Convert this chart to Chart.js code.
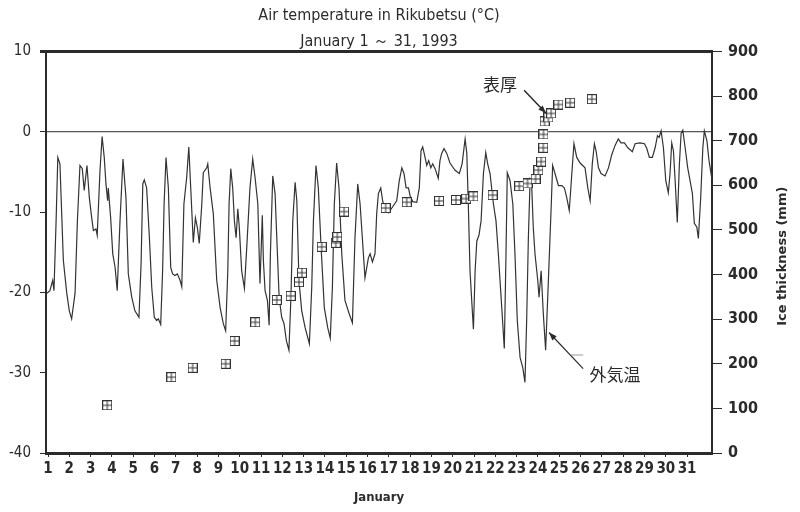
<!DOCTYPE html>
<html>
<head>
<meta charset="utf-8">
<style>
  html, body { margin: 0; padding: 0; background: #fff; }
  #wrap { width: 800px; height: 512px; }
</style>
<script src="https://cdn.jsdelivr.net/npm/chart.js@4/dist/chart.umd.min.js"></script>
</head>
<body>
<div id="wrap"><canvas id="tempChart" width="800" height="512"></canvas></div>
<script>
// Data
// Hourly-ish air temperature trace, x in days of January 1993
const TEMP_DAYS = [
  0.95,1.09,1.22,1.28,1.38,1.46,1.56,1.72,1.88,2.00,
  2.11,2.27,2.38,2.50,2.61,2.70,2.83,2.94,3.05,3.13,
  3.25,3.31,3.44,3.54,3.64,3.72,3.80,3.83,3.94,4.04,
  4.15,4.25,4.38,4.52,4.66,4.77,4.93,5.08,5.27,5.37,
  5.45,5.52,5.63,5.76,5.87,5.99,6.10,6.18,6.29,6.38,
  6.45,6.54,6.65,6.76,6.85,6.96,7.07,7.20,7.28,7.38,
  7.51,7.61,7.70,7.82,7.92,8.01,8.10,8.22,8.29,8.45,
  8.50,8.61,8.76,8.92,9.08,9.23,9.34,9.44,9.50,9.58,
  9.67,9.75,9.83,9.91,9.98,10.09,10.22,10.33,10.48,10.61,
  10.72,10.85,10.95,11.00,11.06,11.11,11.19,11.30,11.38,11.44,
  11.55,11.66,11.74,11.85,11.97,12.08,12.19,12.31,12.41,12.49,
  12.60,12.68,12.78,12.91,13.07,13.27,13.38,13.46,13.58,13.69,
  13.82,13.97,14.13,14.25,14.35,14.44,14.55,14.66,14.79,14.94,
  15.13,15.29,15.41,15.54,15.65,15.88,16.04,16.12,16.23,16.35,
  16.43,16.51,16.62,16.71,16.82,16.98,17.14,17.37,17.49,17.61,
  17.71,17.81,17.92,18.00,18.12,18.31,18.43,18.51,18.59,18.70,
  18.78,18.87,18.97,19.06,19.17,19.32,19.40,19.48,19.59,19.72,
  19.87,20.11,20.31,20.44,20.53,20.58,20.66,20.73,20.81,20.89,
  20.97,21.05,21.13,21.23,21.33,21.44,21.55,21.64,21.75,21.91,
  22.03,22.14,22.30,22.42,22.50,22.56,22.69,22.82,22.92,23.03,
  23.16,23.29,23.39,23.47,23.55,23.63,23.71,23.78,23.86,23.99,
  24.05,24.15,24.25,24.36,24.49,24.62,24.69,24.80,24.96,25.12,
  25.24,25.35,25.47,25.59,25.69,25.82,25.98,26.21,26.34,26.45,
  26.55,26.65,26.73,26.84,26.96,27.15,27.31,27.46,27.62,27.77,
  27.90,28.06,28.22,28.43,28.56,28.79,29.00,29.11,29.23,29.37,
  29.50,29.61,29.69,29.78,29.89,30.00,30.12,30.20,30.28,30.36,
  30.44,30.54,30.64,30.72,30.80,30.91,31.03,31.14,31.25,31.34,
  31.46,31.53,31.64,31.74,31.81,31.93,32.03,32.16
];
const TEMP_VALUES = [
  -20.1,-19.8,-18.5,-19.8,-11.1,-3.2,-4.0,-16.0,-20.1,-22.3,
  -23.3,-20.1,-11.1,-4.2,-4.6,-7.3,-4.2,-8.2,-10.7,-12.3,
  -12.1,-12.9,-4.9,-0.6,-3.2,-6.5,-8.6,-7.0,-10.7,-15.2,
  -16.9,-19.8,-11.1,-3.4,-8.2,-17.7,-20.6,-22.3,-23.1,-16.4,
  -6.5,-6.0,-7.0,-13.2,-19.4,-23.1,-23.5,-23.3,-24.0,-17.3,
  -9.0,-3.2,-7.0,-16.9,-17.7,-17.9,-17.7,-18.5,-19.3,-9.0,
  -5.7,-1.9,-7.0,-13.8,-10.7,-11.9,-13.9,-9.0,-5.1,-4.5,
  -4.0,-7.0,-10.2,-18.5,-21.9,-23.9,-24.8,-17.3,-9.0,-4.6,
  -7.0,-11.1,-13.2,-9.6,-11.9,-17.3,-19.5,-14.4,-7.0,-3.4,
  -5.7,-9.0,-18.9,-15.2,-10.4,-16.0,-19.8,-21.0,-24.1,-15.2,
  -5.5,-7.7,-13.2,-20.6,-23.1,-23.9,-26.0,-27.2,-20.1,-11.1,
  -6.3,-8.6,-18.5,-22.3,-24.4,-26.4,-19.4,-11.1,-4.2,-7.0,
  -14.4,-21.9,-24.4,-25.7,-19.4,-9.0,-3.9,-7.0,-15.2,-21.0,
  -22.6,-23.8,-13.2,-6.5,-9.0,-18.2,-15.7,-15.2,-16.2,-15.2,
  -10.2,-7.7,-7.0,-8.6,-9.8,-10.1,-9.5,-8.6,-6.1,-4.5,
  -5.2,-7.0,-7.0,-8.0,-8.7,-8.8,-7.0,-2.4,-1.9,-3.2,
  -4.2,-3.6,-4.5,-4.0,-4.6,-5.8,-3.6,-2.7,-2.1,-2.7,
  -3.9,-4.8,-5.2,-4.0,-2.0,-0.9,-2.7,-9.0,-17.3,-21.0,
  -24.6,-17.3,-13.6,-12.9,-11.1,-5.2,-2.6,-4.0,-5.2,-9.0,
  -11.1,-15.2,-21.9,-27.0,-15.2,-5.1,-6.1,-9.0,-15.2,-23.5,
  -28.1,-29.4,-31.2,-23.5,-13.2,-6.1,-7.0,-11.9,-15.2,-18.5,
  -20.6,-17.3,-22.6,-27.2,-18.5,-9.4,-4.2,-5.2,-6.7,-6.7,
  -7.0,-8.2,-9.8,-5.2,-1.5,-3.2,-3.9,-4.5,-7.0,-8.6,
  -4.0,-1.5,-2.4,-4.5,-5.2,-5.5,-4.5,-2.9,-1.7,-0.9,
  -1.4,-1.4,-2.0,-2.5,-1.5,-1.4,-1.5,-2.1,-3.2,-3.2,
  -2.0,-0.5,-0.7,0.1,-2.0,-6.1,-7.6,-5.2,-1.4,-2.4,
  -6.1,-11.3,-4.0,-0.2,0.2,-2.0,-4.5,-6.1,-7.7,-11.4,
  -11.9,-13.3,-8.2,-2.0,0.1,-1.1,-3.6,-5.8
];

// Ice thickness measurements (mm)
const ICE_DAYS = [3.78,6.79,7.79,9.34,9.76,10.73,11.74,12.39,12.78,12.92,13.85,14.51,14.58,14.90,
  16.85,17.84,19.36,20.15,20.63,20.97,21.87,23.12,23.51,23.89,24.02,24.15,24.25,24.26,24.31,
  24.49,24.62,24.96,25.51,26.53];
const ICE_MM = [107,170,191,200,251,293,343,352,383,404,462,471,484,541,
  549,562,565,567,570,575,578,598,604,614,634,653,684,714,743,
  752,761,781,785,793];

// Tick labels
const DAY_TICKS = [1,2,3,4,5,6,7,8,9,10,11,12,13,14,15,16,17,18,19,20,21,22,23,24,25,26,27,28,29,30,31];
const TEMP_TICKS = [10,0,-10,-20,-30,-40];
const ICE_TICKS = [0,100,200,300,400,500,600,700,800,900];

// Callout labels (placed in data units)
const THICK_NOTE = { text: '表厚', day: 22.22, temp: 5.9 };
const THICK_ARROW = [[23.35, 5.15], [24.38, 2.3]];
const AIR_NOTE = { text: '外気温', day: 27.62, temp: -30.2 };
const AIR_ARROW = [[26.12, -29.5], [24.52, -25.0]];
const AIR_TICK = [[25.55, -27.8], [26.12, -27.8]];

const NARROW = "'Liberation Sans Narrow', 'DejaVu Sans Condensed', sans-serif";
const INK = '#2b2b2b';

// Square-with-cross marker used for ice thickness
function makeIceMarker() {
    const c = document.createElement('canvas');
    c.width = 10; c.height = 10;
    const g = c.getContext('2d');
    g.fillStyle = '#fff';
    g.fillRect(0, 0, 10, 10);
    g.strokeStyle = '#333';
    g.lineWidth = 1;
    g.strokeRect(0.5, 0.5, 9, 9);
    g.beginPath();
    g.moveTo(5, 0.5); g.lineTo(5, 9.5);
    g.moveTo(0.5, 5); g.lineTo(9.5, 5);
    g.stroke();
    return c;
}

function drawArrow(ctx, x0, y0, x1, y1) {
    ctx.beginPath();
    ctx.moveTo(x0, y0);
    ctx.lineTo(x1, y1);
    ctx.stroke();
    const a = Math.atan2(y1 - y0, x1 - x0);
    const len = 8, w = 3;
    ctx.beginPath();
    ctx.moveTo(x1, y1);
    ctx.lineTo(x1 - len * Math.cos(a) + w * Math.sin(a), y1 - len * Math.sin(a) - w * Math.cos(a));
    ctx.lineTo(x1 - len * Math.cos(a) - w * Math.sin(a), y1 - len * Math.sin(a) + w * Math.cos(a));
    ctx.closePath();
    ctx.fill();
}

// Frame: top border + 0 degree reference line
const framePlugin = {
    id: 'frame',
    beforeDatasetsDraw(chart) {
        const { ctx, chartArea: ca, scales: { y } } = chart;
        ctx.save();
        ctx.strokeStyle = INK;
        ctx.lineWidth = 3;
        ctx.beginPath();
        ctx.moveTo(ca.left - 6, ca.top);
        ctx.lineTo(ca.right, ca.top);
        ctx.stroke();
        const y0 = y.getPixelForValue(0);
        ctx.lineWidth = 1;
        ctx.beginPath();
        ctx.moveTo(ca.left, y0);
        ctx.lineTo(ca.right, y0);
        ctx.stroke();
        ctx.restore();
    }
};

// Callouts and rotated right-axis title
const notesPlugin = {
    id: 'notes',
    afterDraw(chart) {
        const { ctx, chartArea: ca, scales: { x, y } } = chart;
        ctx.save();
        ctx.fillStyle = INK;
        ctx.strokeStyle = INK;
        ctx.lineWidth = 1.5;
        ctx.font = "17px 'Noto Sans CJK JP', sans-serif";
        ctx.textAlign = 'center';
        ctx.textBaseline = 'middle';
        ctx.fillText(THICK_NOTE.text, x.getPixelForValue(THICK_NOTE.day), y.getPixelForValue(THICK_NOTE.temp));
        ctx.fillText(AIR_NOTE.text, x.getPixelForValue(AIR_NOTE.day), y.getPixelForValue(AIR_NOTE.temp));

        drawArrow(ctx,
            x.getPixelForValue(THICK_ARROW[0][0]), y.getPixelForValue(THICK_ARROW[0][1]),
            x.getPixelForValue(THICK_ARROW[1][0]), y.getPixelForValue(THICK_ARROW[1][1]));
        ctx.lineWidth = 1.2;
        drawArrow(ctx,
            x.getPixelForValue(AIR_ARROW[0][0]), y.getPixelForValue(AIR_ARROW[0][1]),
            x.getPixelForValue(AIR_ARROW[1][0]), y.getPixelForValue(AIR_ARROW[1][1]));

        // faint leader stub next to the air temperature callout
        ctx.strokeStyle = '#999';
        ctx.lineWidth = 1;
        ctx.beginPath();
        ctx.moveTo(x.getPixelForValue(AIR_TICK[0][0]), y.getPixelForValue(AIR_TICK[0][1]));
        ctx.lineTo(x.getPixelForValue(AIR_TICK[1][0]), y.getPixelForValue(AIR_TICK[1][1]));
        ctx.stroke();

        // right axis title, reading bottom to top
        ctx.fillStyle = INK;
        ctx.font = "bold 13px 'DejaVu Sans', sans-serif";
        ctx.translate(ca.right + 71, (ca.top + ca.bottom) / 2 + 4);
        ctx.rotate(-Math.PI / 2);
        ctx.fillText('Ice thickness (mm)', 0, 0);
        ctx.restore();
    }
};

const tempData = TEMP_DAYS.map((d, i) => ({ x: d, y: TEMP_VALUES[i] }));
const iceData = ICE_DAYS.map((d, i) => ({ x: d, y: ICE_MM[i] }));

const ctx = document.getElementById('tempChart').getContext('2d');

new Chart(ctx, {
    type: 'line',
    data: {
        datasets: [
            {
                label: '表厚',
                data: iceData,
                yAxisID: 'y2',
                showLine: false,
                pointStyle: makeIceMarker(),
                pointRadius: 5
            },
            {
                label: '外気温',
                data: tempData,
                yAxisID: 'y',
                borderColor: '#333',
                borderWidth: 1.2,
                pointRadius: 0,
                tension: 0,
                fill: false
            }
        ]
    },
    options: {
        responsive: false,
        animation: false,
        layout: { padding: 0 },
        plugins: {
            legend: { display: false },
            tooltip: { enabled: false },
            title: {
                display: true,
                fullSize: false,
                text: 'Air temperature in Rikubetsu (°C)',
                color: INK,
                font: { family: NARROW, size: 16, weight: 'normal' },
                padding: { top: 6, bottom: 7 }
            },
            subtitle: {
                display: true,
                fullSize: false,
                text: 'January 1 ～ 31, 1993',
                color: INK,
                font: { family: NARROW, size: 16 },
                padding: { top: 0, bottom: 0 }
            }
        },
        scales: {
            x: {
                type: 'linear',
                position: 'bottom',
                min: 0.906,
                max: 32.17,
                afterBuildTicks: s => { s.ticks = DAY_TICKS.map(v => ({ value: v })); },
                afterFit: s => { s.height = 59; },
                ticks: {
                    autoSkip: false,
                    maxRotation: 0,
                    padding: 3,
                    color: INK,
                    font: { family: NARROW, size: 15, weight: 'bold' }
                },
                grid: { drawOnChartArea: false, drawTicks: true, tickLength: 4, color: INK },
                border: { display: true, color: INK, width: 3 },
                title: {
                    display: true,
                    text: 'January',
                    color: INK,
                    font: { family: NARROW, size: 13, weight: 'bold' },
                    padding: { top: 0, bottom: 7 }
                }
            },
            y: {
                type: 'linear',
                position: 'left',
                min: -40,
                max: 10,
                afterBuildTicks: s => { s.ticks = TEMP_TICKS.map(v => ({ value: v })); },
                afterFit: s => { s.width = 46; },
                ticks: {
                    padding: 9,
                    color: INK,
                    font: { family: NARROW, size: 15 }
                },
                grid: { drawOnChartArea: false, drawTicks: true, tickLength: 6, color: INK },
                border: { display: true, color: INK, width: 2 }
            },
            y2: {
                type: 'linear',
                position: 'right',
                min: 0,
                max: 900,
                afterBuildTicks: s => { s.ticks = ICE_TICKS.map(v => ({ value: v })); },
                afterFit: s => { s.width = 88; },
                ticks: {
                    padding: 6,
                    color: INK,
                    font: { family: NARROW, size: 16, weight: 'bold' }
                },
                grid: { drawOnChartArea: false, drawTicks: true, tickLength: 10, color: INK },
                border: { display: true, color: INK, width: 2 }
            }
        }
    },
    plugins: [framePlugin, notesPlugin]
});
</script>
</body>
</html>
